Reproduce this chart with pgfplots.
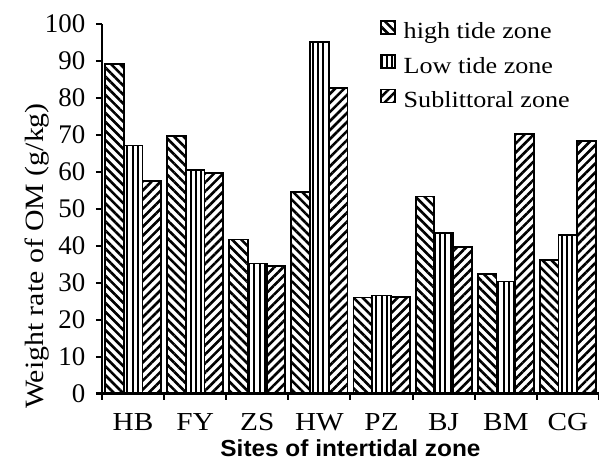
\documentclass[border=0pt]{standalone}
\usepackage{fontspec}
\setmainfont[FakeStretch=1.13]{Liberation Serif}
\newfontfamily\plainserif{Liberation Serif}
\newfontfamily\xlabfont[FakeStretch=1.05]{Liberation Sans}
\usepackage{pgfplots}
\usepackage{pgfplotstable}
\pgfplotsset{compat=1.18}
\usetikzlibrary{patterns.meta}

\pgfplotstableread{
x high low sub
0 89.1 67.1 57.5
1 69.7 60.5 59.6
2 41.7 35.2 34.5
3 54.5 95.2 82.6
4 26.0 26.5 26.2
5 53.3 43.4 39.7
6 32.3 30.3 70.2
7 36.1 42.9 68.4
}\datatable

\begin{document}
\begin{tikzpicture}
\begin{axis}[
  at={(0,0)}, anchor=south west, scale only axis,
  width=497bp, height=369.5bp,
  xmin=-0.5, xmax=7.5, ymin=0, ymax=100,
  ybar=0pt, bar width=18.7bp,
  axis x line=bottom, axis y line=left,
  axis line style={line width=2bp, -},
  tick align=outside,
  major tick length=6bp,
  every tick/.style={black, line width=2bp},
  ytick={0,10,20,30,40,50,60,70,80,90,100},
  xtick={-0.5,0.5,1.5,2.5,3.5,4.5,5.5,6.5,7.5},
  xticklabels={HB,FY,ZS,HW,PZ,BJ,BM,CG},
  x tick label as interval,
  /pgf/number format/assume math mode=true,
  yticklabel style={font=\plainserif\fontsize{27}{28}\selectfont, inner sep=0pt, anchor=east, xshift=-10.5bp},
  xticklabel style={font=\fontsize{26}{27}\selectfont, inner sep=0pt, anchor=base, yshift=-31bp},
  xlabel={Sites of intertidal zone},
  xlabel style={font=\xlabfont\bfseries\fontsize{23.3}{24}\selectfont, at={(axis description cs:0.5,0)}, anchor=base, yshift=-63bp, inner sep=0pt},
  ylabel={Weight rate of OM (g/kg)},
  ylabel style={font=\fontsize{26.5}{27}\selectfont, at={(axis description cs:0,0.372)}, anchor=base, yshift=58.5bp, inner sep=0pt},
  legend style={at={(axis cs:3.97,101.2)}, anchor=north west, draw=none, fill=none, inner sep=0pt,
    font=\fontsize{23.2}{24}\selectfont, row sep=10.5bp,
    nodes={inner sep=0pt, text height=17bp, text depth=5bp}},
  legend cell align=left,
  legend image code/.code={\draw[#1, line width=1.8bp] (0bp,-1bp) rectangle (14bp,12bp);},
  legend columns=1,
]
\addplot[draw=black, line width=1.8bp, pattern={Lines[angle=-45,distance=6.4bp,line width=2.6bp]}] table[x=x,y=high]{\datatable};
\addplot[draw=black, line width=1.8bp, pattern={Lines[angle=90,distance=5.3bp,line width=2bp]}] table[x=x,y=low]{\datatable};
\addplot[draw=black, line width=1.8bp, pattern={Lines[angle=45,distance=6.4bp,line width=2.6bp]}] table[x=x,y=sub]{\datatable};
\legend{\hspace{8bp}high tide zone,\hspace{8bp}Low tide zone,\hspace{8bp}Sublittoral zone}
\end{axis}
\pgfresetboundingbox
\useasboundingbox (-102bp,-66.5bp) rectangle (497bp,393.5bp);
\end{tikzpicture}
\end{document}
